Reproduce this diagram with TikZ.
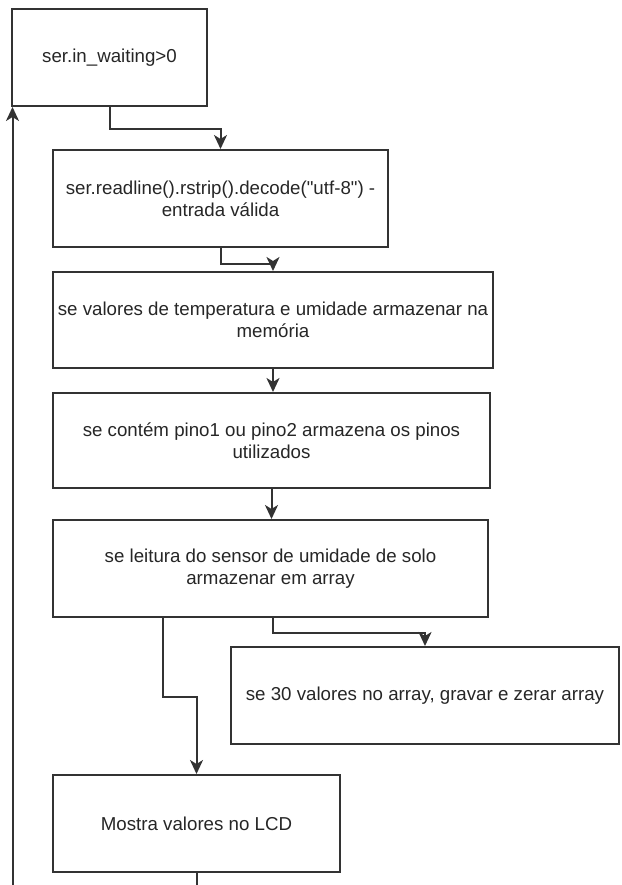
\documentclass[tikz,border=0pt]{standalone}
\usepackage{fontspec}
\setmainfont{Liberation Sans}[Ligatures=TeXOff]
\usetikzlibrary{arrows.meta}

\begin{document}
\begin{tikzpicture}[x=1pt,y=-1pt,
        stepbox/.style={draw=black!80, line width=2pt, align=center, inner sep=0pt,
            font=\fontsize{18.7}{22}\selectfont, text=black!85},
        flow/.style={draw=black!80, line width=2pt, -{Stealth[length=14pt,width=13pt,inset=4pt]}}]
    \useasboundingbox (0,0) rectangle (621,885);
    \node[stepbox, minimum width=195pt, minimum height=97pt] (wait) at (109.5,57.5) {ser.in\_waiting>0};
    \node[stepbox, minimum width=335pt, minimum height=97pt] (readline) at (220.5,198.5)
        {ser.readline().rstrip().decode("utf-8") -\\entrada válida};
    \node[stepbox, minimum width=440pt, minimum height=96pt] (memoria) at (273,320)
        {se valores de temperatura e umidade armazenar na\\memória};
    \node[stepbox, minimum width=437pt, minimum height=95pt] (pinos) at (271.5,440.5)
        {se contém pino1 ou pino2 armazena os pinos\\utilizados};
    \node[stepbox, minimum width=435pt, minimum height=97pt] (solo) at (270.5,568.5)
        {se leitura do sensor de umidade de solo\\armazenar em array};
    \node[stepbox, minimum width=388pt, minimum height=97pt] (gravar) at (425,695.5)
        {se 30 valores no array, gravar e zerar array};
    \node[stepbox, minimum width=287pt, minimum height=97pt] (lcd) at (196.5,823.5) {Mostra valores no LCD};
    \coordinate (loopend) at (12.5,885);
    \coordinate (lcdend) at (196.5,885);

    \draw[flow] (wait.south) -- ++(0,22) -| (readline.north);
    \draw[flow] (readline.south) -- ++(0,16) -| (memoria.north);
    \draw[flow] (memoria.south) -- (memoria.south |- pinos.north);
    \draw[flow] (pinos.south) -- (pinos.south |- solo.north);
    \draw[flow] ([xshift=2.5pt]solo.south) -- ++(0,15) -| (gravar.north);
    \draw[flow] ([xshift=-108pt]solo.south) -- ++(0,79) -| (lcd.north);
    \draw[draw=black!80, line width=2pt] (lcd.south) -- (lcdend);
    \draw[flow] (loopend) -- (loopend |- wait.south);
\end{tikzpicture}
\end{document}
